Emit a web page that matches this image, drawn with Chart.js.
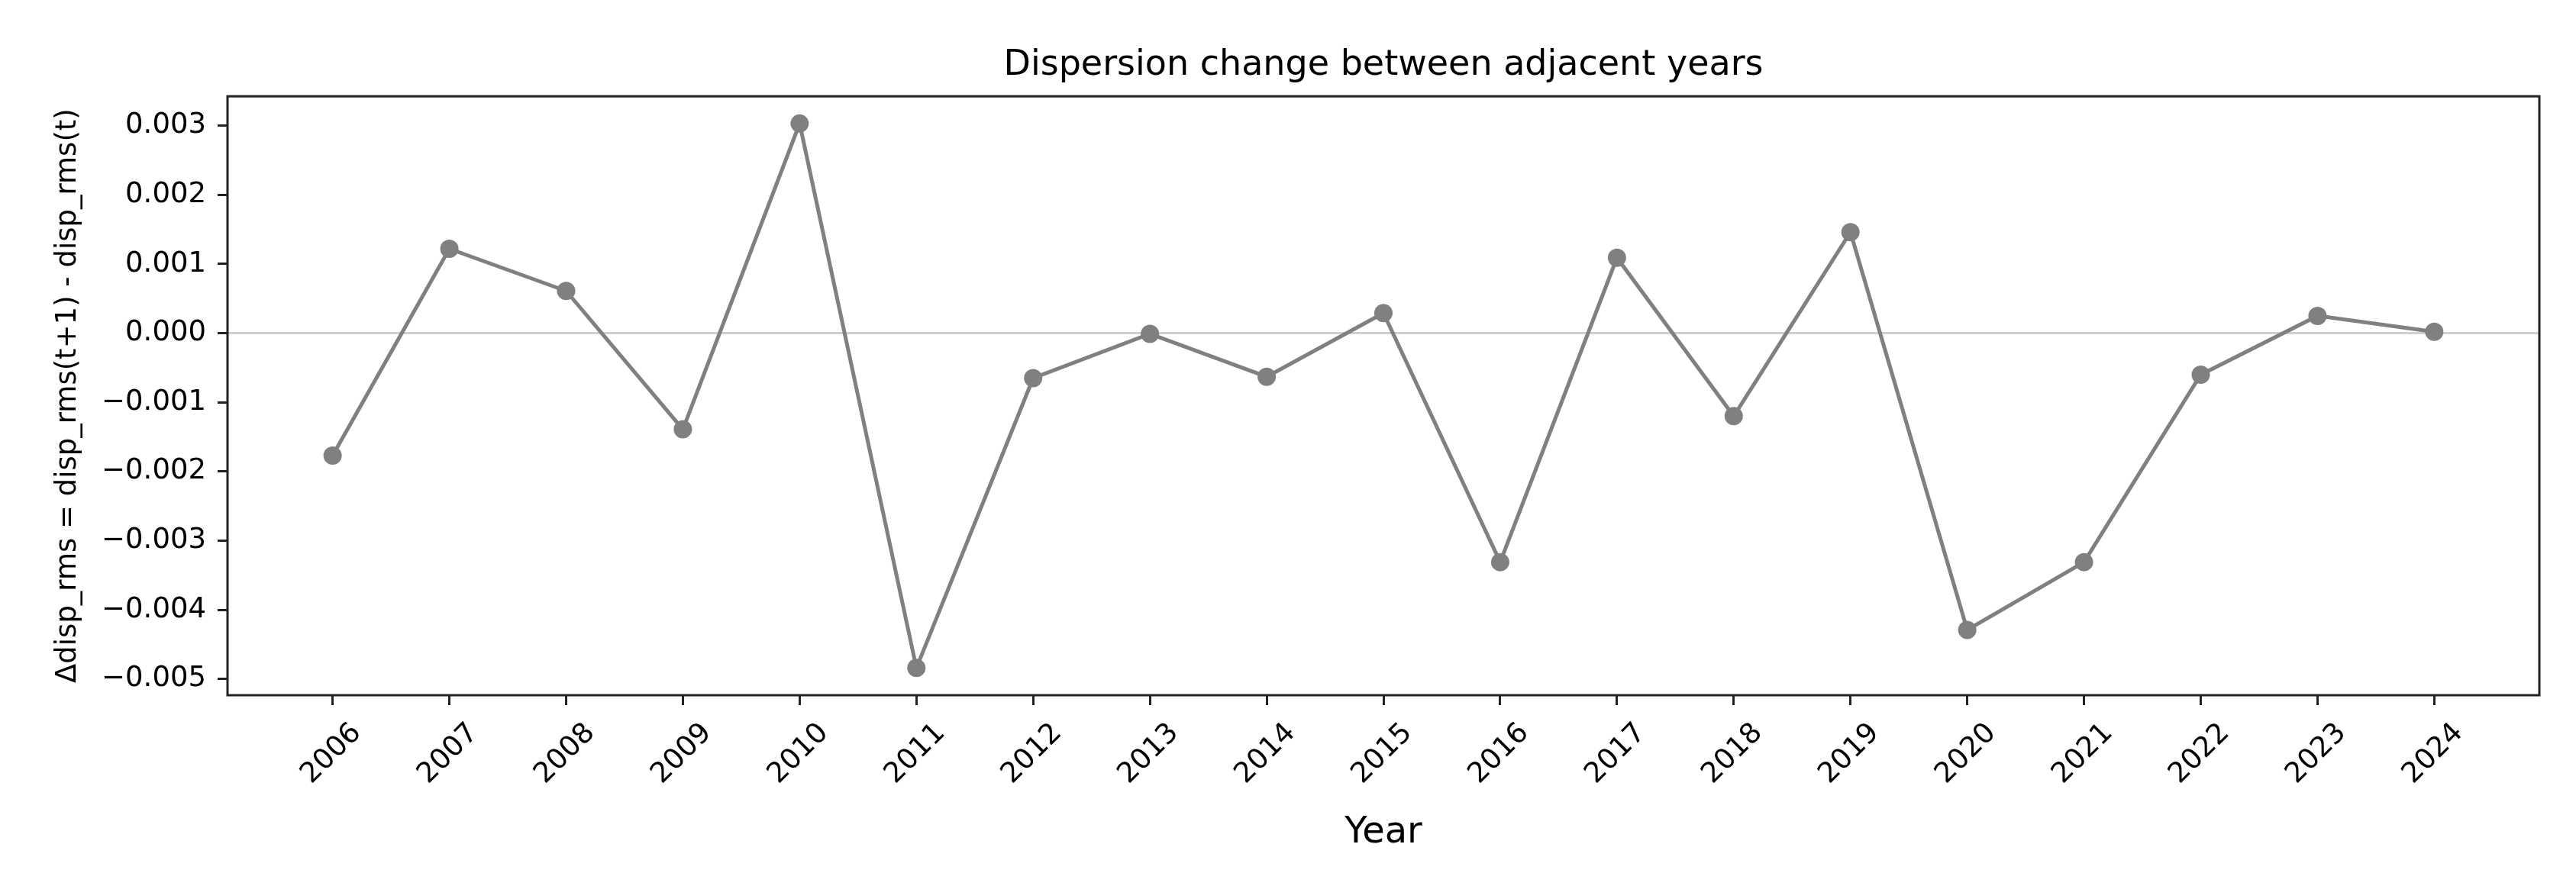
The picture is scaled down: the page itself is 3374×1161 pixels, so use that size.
<!DOCTYPE html>
<html>
<head>
<meta charset="utf-8">
<script src="https://cdn.jsdelivr.net/npm/chart.js@4.4.1/dist/chart.umd.min.js"></script>
<style>
html,body{margin:0;padding:0;background:#fff;overflow:hidden}
#wrap{width:3374px;height:1161px;position:relative;background:#fff}
</style>
</head>
<body>
<div id="wrap"><canvas id="c" width="3374" height="1161"></canvas></div>
<script>
const years = [2006, 2007, 2008, 2009, 2010, 2011, 2012, 2013, 2014, 2015, 2016, 2017, 2018, 2019, 2020, 2021, 2022, 2023, 2024];
const deltaDispRms = [-0.00177, 0.00122, 0.00061, -0.00139, 0.00303, -0.00484, -0.00065, -0.00001, -0.00063, 0.00029, -0.00331, 0.00109, -0.00120, 0.00146, -0.00429, -0.00331, -0.00060, 0.00025, 0.00002];
const yTickValues = [-0.005, -0.004, -0.003, -0.002, -0.001, 0, 0.001, 0.002, 0.003];
const titleText = 'Dispersion change between adjacent years';
const xAxisTitle = 'Year';
const yAxisTitle = 'Δdisp_rms = disp_rms(t+1) - disp_rms(t)';

// matplotlib-like 5% auto margins
const yLo = Math.min(...deltaDispRms), yHi = Math.max(...deltaDispRms);
const yPad = (yHi - yLo) * 0.05;
const xPad = (years[years.length - 1] - years[0]) * 0.05;
const FONT = 'DejaVu Sans';

function fmtY(v) {
  if (Math.abs(v) < 1e-12) return '0.000';
  return v < 0 ? '\u2212' + Math.abs(v).toFixed(3) : v.toFixed(3);
}

const framePlugin = {
  id: 'frame',
  afterDraw(chart) {
    const {ctx, chartArea: a} = chart;
    ctx.save();
    ctx.strokeStyle = '#222';
    ctx.lineWidth = 3;
    ctx.strokeRect(a.left, a.top, a.right - a.left, a.bottom - a.top);
    ctx.restore();
  }
};

new Chart(document.getElementById('c').getContext('2d'), {
  type: 'line',
  data: {
    datasets: [{
      data: years.map((y, i) => ({x: y, y: deltaDispRms[i]})),
      borderColor: '#808080',
      backgroundColor: '#808080',
      borderWidth: 5,
      pointRadius: 12,
      pointBorderWidth: 0,
      pointBackgroundColor: '#808080',
      tension: 0,
      clip: false
    }]
  },
  options: {
    responsive: false,
    animation: false,
    devicePixelRatio: 1,
    layout: {padding: {left: 0, right: 48, top: 0, bottom: 0}},
    plugins: {
      legend: {display: false},
      tooltip: {enabled: false},
      title: {
        display: true,
        text: titleText,
        fullSize: false,
        color: '#000',
        font: {family: FONT, size: 46, weight: 'normal', lineHeight: 1.2},
        padding: {top: 58, bottom: 13}
      }
    },
    scales: {
      x: {
        type: 'linear',
        min: years[0] - xPad,
        max: years[years.length - 1] + xPad,
        afterBuildTicks: s => { s.ticks = years.map(v => ({value: v})); },
        afterFit: s => { s.height = 250; },
        grid: {display: true, drawOnChartArea: false, drawTicks: true, tickLength: 13, tickColor: '#222', tickWidth: 3},
        border: {display: false},
        ticks: {
          autoSkip: false, minRotation: 45, maxRotation: 45, labelOffset: 32, padding: 15,
          color: '#000', font: {family: FONT, size: 37},
          callback: v => String(v)
        },
        title: {display: true, text: xAxisTitle, color: '#000', font: {family: FONT, size: 48}, padding: {top: 0, bottom: 41}}
      },
      y: {
        type: 'linear',
        min: yLo - yPad,
        max: yHi + yPad,
        afterBuildTicks: s => { s.ticks = yTickValues.map(v => ({value: v})); },
        afterFit: s => { s.width = 298; },
        grid: {
          display: true, drawOnChartArea: true, drawTicks: true, tickLength: 13,
          tickColor: '#222', tickWidth: 3, lineWidth: 3,
          color: c => (c.tick && Math.abs(c.tick.value) < 1e-12) ? '#d0d0d0' : 'rgba(0,0,0,0)'
        },
        border: {display: false},
        ticks: {padding: 15, color: '#000', font: {family: FONT, size: 37}, callback: v => fmtY(v)},
        title: {display: true, text: yAxisTitle, color: '#000', font: {family: FONT, size: 37}, padding: {top: 67, bottom: 0}}
      }
    }
  },
  plugins: [framePlugin]
});
</script>
</body>
</html>
